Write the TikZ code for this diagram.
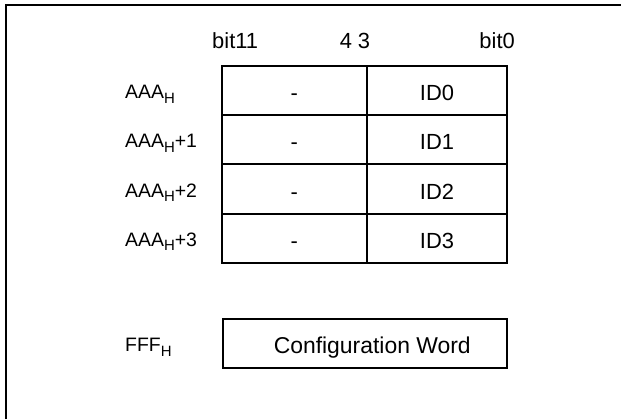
\documentclass[tikz,border=0pt]{standalone}
\usepackage{fontspec}
\setmainfont{Liberation Sans}
\newcommand\subH{\raisebox{-4.5bp}{\fontsize{15}{15}\selectfont H}}
\begin{document}
\begin{tikzpicture}[x=1bp,y=-1bp,
  hdr/.style={font=\fontsize{22}{22}\selectfont, inner sep=0pt},
  lab/.style={font=\fontsize{19.5}{19.5}\selectfont, inner sep=0pt, anchor=base west},
  cell/.style={draw, line width=2bp, minimum height=49.2bp, inner sep=0pt,
    text height=20bp, text depth=0pt, font=\fontsize{22}{22}\selectfont},
  frame/.style={line width=2bp}]
\useasboundingbox (0,0) rectangle (621,419);
\coordinate (fb) at (6,419);
\coordinate (fc) at (6,5);
\coordinate (fr) at (621,5);
\draw[frame] (fb) -- (fc) -- (fr);
% header
\node[hdr, anchor=base west] (b11) at (212,48) {bit11};
\node[hdr, anchor=base] (b4) at (346,48) {4};
\node[hdr, anchor=base] (b3) at (364,48) {3};
\node[hdr, anchor=base east] (b0) at (515,48) {bit0};
% table
\foreach \i/\y in {0/90.6,1/139.8,2/189.0,3/238.2} {
  \node[cell, minimum width=145.5bp] (dash\i) at (294.25,\y) {-};
  \node[cell, minimum width=140bp] (id\i) at (437,\y) {ID\i};
}
% labels
\node[lab] (a0) at (125,98.6) {AAA\subH};
\node[lab] (a1) at (125,147.8) {AAA\subH+1};
\node[lab] (a2) at (125,197.0) {AAA\subH+2};
\node[lab] (a3) at (125,246.2) {AAA\subH+3};
\node[lab] (f0) at (125,351.5) {FFF\subH};
% configuration word
\node[cell, minimum width=284.5bp, minimum height=49bp, font=\fontsize{23}{23}\selectfont]
  (cfg) at (364.75,343.5) {\hspace*{15bp}Configuration Word};
\end{tikzpicture}
\end{document}
